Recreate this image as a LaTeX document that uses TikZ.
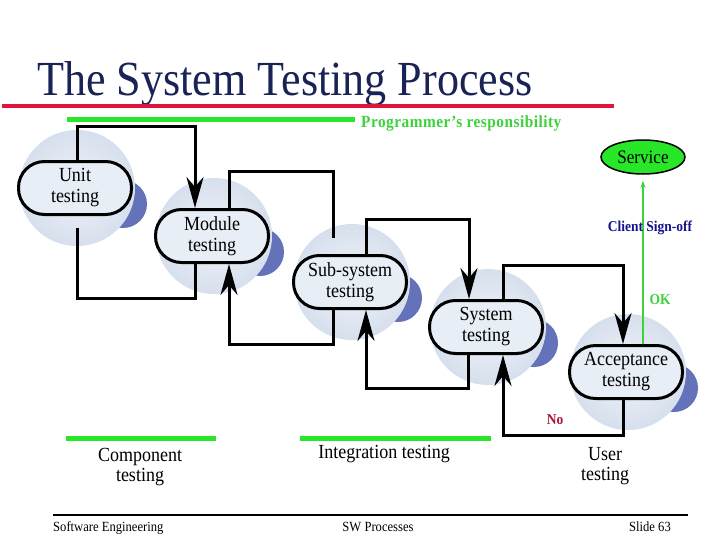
\documentclass[tikz,border=0pt]{standalone}
\usepackage{fontspec}
\setmainfont{Liberation Serif}[FakeStretch=0.9]
\usetikzlibrary{arrows.meta, calc, shapes.geometric}

\definecolor{titleblue}{RGB}{25,35,85}
\definecolor{rulered}{RGB}{225,20,60}
\definecolor{bargreen}{RGB}{40,230,40}
\definecolor{textgreen}{RGB}{60,210,60}
\definecolor{signblue}{RGB}{20,20,140}
\definecolor{nored}{RGB}{170,20,60}
\definecolor{bubbleblue}{RGB}{214,223,237}
\definecolor{moonblue}{RGB}{100,115,185}
\definecolor{stagefill}{RGB}{232,238,246}

\tikzset{
  stage/.style={draw, line width=3pt, fill=stagefill, rounded corners=26pt,
    minimum width=113pt, minimum height=53pt, align=center,
    font=\fontsize{20}{21}\selectfont},
  bubble/.style={inner color=stagefill!60!white, outer color=bubbleblue},
  moon/.style={fill=moonblue},
  link/.style={line width=3pt, -{Stealth[length=31pt, width=17pt, inset=10pt]}},
  bar/.style={bargreen, line width=5pt},
  band/.style={font=\fontsize{20}{20}\selectfont, align=center},
  foot/.style={font=\fontsize{14}{14}\selectfont, inner sep=0pt}
}

\begin{document}
\begin{tikzpicture}[x=1pt, y=-1pt]
\useasboundingbox (0,0) rectangle (717,538);
\fill[white] (0,0) rectangle (717,538);

% title
\node[anchor=base west, inner sep=0pt, text=titleblue, font=\fontsize{49}{49}\selectfont] (title) at (37,95) {The System Testing Process};
\draw[rulered, line width=4pt] (2,106) -- (614,106);
\draw[bar] (67,119) -- (355,119);
\node[anchor=base west, inner sep=0pt, text=textgreen, font=\bfseries\fontsize{17}{17}\selectfont\addfontfeatures{LetterSpace=3}] (resp) at (361,127) {Programmer's responsibility};

% stages
\foreach \n/\p/\t in {unit/{75,188}/Unit\\testing, module/{212,236}/Module\\testing,
    subsys/{350,282}/Sub-system\\testing, system/{486,327}/System\\testing,
    accept/{626,372}/Acceptance\\testing} {
  \fill[moon] ($(\p)+(48,16)$) circle (24pt);
  \shade[bubble] ($(\p)+(2,0)$) circle (58pt);
  \node[stage] (\n) at (\p) {\t};
}

% forward
\draw[link] ([xshift=2pt]unit.north) -- ++(0,-34) -| ([xshift=-17pt]module.north);
\draw[line width=3pt, shorten >=16pt] ([xshift=17pt]module.north) -- ++(0,-37) -| ([xshift=-17pt]subsys.north);
\draw[link] ([xshift=16pt]subsys.north) -- ++(0,-35) -| ([xshift=-17pt]system.north);
\draw[link] ([xshift=17pt]system.north) -- ++(0,-34) -| ([xshift=-3pt]accept.north);

% back
\draw[line width=3pt, shorten >=12pt] ([xshift=-17pt]module.south) -- ++(0,34) -| ([xshift=2pt]unit.south);
\draw[link] ([xshift=-17pt]subsys.south) -- ++(0,34) -| ([xshift=17pt]module.south);
\draw[link] ([xshift=-18pt]system.south) -- ++(0,33) -| ([xshift=16pt]subsys.south);
\draw[link] ([xshift=-3pt]accept.south) -- ++(0,35) -| ([xshift=17pt]system.south);
\node[text=nored, font=\bfseries\fontsize{15}{15}\selectfont] (no) at (555,420) {No};

% sign-off
\node[ellipse, draw, line width=1.5pt, fill=bargreen, minimum width=84pt, minimum height=34pt,
  inner sep=0pt, font=\fontsize{19}{19}\selectfont] (service) at (643,157) {Service};
\draw[textgreen, line width=1.5pt, shorten >=6pt, -{Stealth[length=7pt, width=5pt]}] ([xshift=17pt]accept.north) -- (service.south);
\node[text=signblue, font=\bfseries\fontsize{15}{15}\selectfont] (signoff) at (650,228) {Client Sign-off};
\node[text=textgreen, font=\bfseries\fontsize{15}{15}\selectfont] (ok) at (660,300) {OK};

% phases
\draw[bar] (66,438) -- (216,438);
\draw[bar] (300,438) -- (491,438);
\node[band] (comp) at (140,467) {Component\\testing};
\node[band] (integ) at (384,454) {Integration testing};
\node[band] (user) at (605,466) {User\\testing};

% footer
\draw[line width=2pt] (53,515) -- (688,515);
\node[foot, anchor=base west] (f1) at (53,531) {Software Engineering};
\node[foot, anchor=base] (f2) at (378,531) {SW Processes};
\node[foot, anchor=base east] (f3) at (671,531) {Slide 63};
\end{tikzpicture}
\end{document}
